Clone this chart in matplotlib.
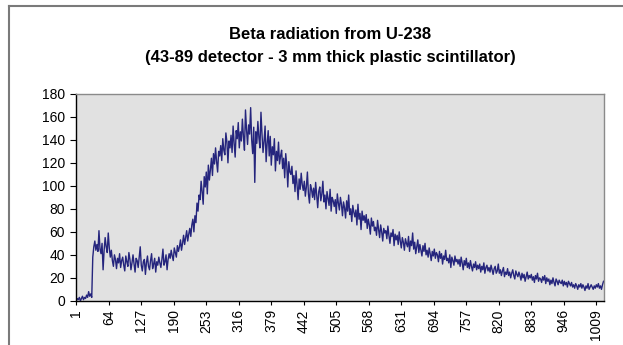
import matplotlib
matplotlib.use("Agg")
import matplotlib.pyplot as plt
from matplotlib.lines import Line2D

title_lines = ["Beta radiation from U-238",
               "(43-89 detector - 3 mm thick plastic scintillator)"]

# counts, every 2nd channel starting at channel 1
counts = [
    0, 2, 1, 3, 0, 2, 4, 1, 3, 2,
    5, 3, 8, 4, 6, 3, 38, 47, 52, 44,
    49, 43, 61, 45, 41, 50, 27, 44, 55, 47,
    42, 59, 46, 38, 44, 35, 30, 40, 36, 28,
    37, 33, 41, 29, 35, 38, 31, 26, 39, 34,
    30, 42, 36, 27, 33, 40, 32, 25, 37, 35,
    29, 38, 47, 31, 26, 34, 36, 23, 33, 39,
    30, 27, 35, 41, 28, 32, 37, 25, 34, 31,
    38, 33, 29, 36, 45, 31, 34, 40, 27, 36,
    41, 37, 44, 39, 35, 46, 42, 38, 48, 43,
    47, 53, 44, 50, 57, 49, 55, 61, 52, 58,
    63, 56, 66, 71, 60, 74, 68, 85, 78, 92,
    88, 104, 95, 84, 108, 99, 112, 93, 118, 105,
    114, 124, 109, 128, 119, 133, 121, 112, 130, 126,
    135, 122, 141, 131, 127, 146, 138, 120, 139, 133,
    144, 129, 152, 137, 125, 148, 141, 155, 133, 147,
    139, 158, 143, 131, 166, 149, 136, 153, 145, 168,
    140, 128, 151, 103, 147, 137, 156, 142, 133, 164,
    145, 129, 139, 152, 121, 137, 148, 126, 143, 118,
    134, 127, 141, 113, 130, 122, 138, 119, 126, 131,
    115, 124, 107, 128, 118, 99, 121, 112, 110, 117,
    102, 109, 95, 113, 100, 88, 106, 97, 111, 101,
    96, 104, 91, 99, 112, 93, 85, 101, 97, 90,
    98, 88, 103, 92, 81, 95, 99, 87, 93, 104,
    86, 92, 80, 95, 89, 83, 97, 78, 90, 87,
    82, 88, 76, 93, 85, 79, 90, 84, 74, 86,
    81, 72, 87, 78, 92, 75, 80, 69, 83, 77,
    73, 79, 66, 84, 71, 76, 62, 78, 70, 74,
    68, 75, 63, 71, 66, 58, 72, 65, 69, 61,
    64, 57, 70, 62, 55, 66, 60, 52, 63, 59,
    61, 54, 65, 57, 50, 59, 56, 62, 48, 58,
    53, 57, 49, 60, 52, 46, 55, 51, 44, 54,
    50, 47, 56, 43, 52, 48, 59, 45, 51, 41,
    47, 53, 42, 49, 44, 39, 48, 43, 50, 40,
    44, 38, 46, 41, 35, 43, 39, 45, 37, 42,
    40, 34, 43, 37, 41, 32, 39, 36, 44, 35,
    37, 33, 40, 29, 38, 35, 31, 39, 34, 36,
    32, 36, 30, 38, 33, 27, 35, 31, 37, 29,
    33, 28, 35, 30, 26, 32, 29, 34, 27, 31,
    28, 32, 25, 30, 27, 33, 24, 29, 31, 26,
    29, 25, 31, 27, 23, 28, 30, 24, 26, 32,
    24, 27, 22, 26, 29, 21, 25, 23, 28, 22,
    25, 20, 24, 27, 22, 19, 26, 23, 21, 25,
    22, 18, 24, 20, 23, 17, 21, 25, 19, 22,
    20, 23, 18, 21, 16, 22, 19, 24, 17, 20,
    19, 16, 21, 18, 22, 15, 20, 17, 19, 14,
    18, 15, 20, 16, 13, 19, 17, 14, 18, 16,
    15, 18, 13, 17, 14, 16, 12, 17, 15, 13,
    16, 12, 14, 11, 15, 13, 10, 14, 12, 15,
    11, 14, 12, 9, 13, 11, 15, 10, 12, 14,
    12, 10, 13, 11, 14, 12, 15, 11, 13, 10,
    14, 17,
]
channel_step = 2
channels = [1 + channel_step * i for i in range(len(counts))]
n_channels = 1024

x_tick_labels = [1, 64, 127, 190, 253, 316, 379, 442, 505, 568,
                 631, 694, 757, 820, 883, 946, 1009]
y_ticks = [0, 20, 40, 60, 80, 100, 120, 140, 160, 180]

plt.rcParams['font.family'] = ['Liberation Sans', 'DejaVu Sans']

fig = plt.figure(figsize=(6.23, 3.45), dpi=100)
ax = fig.add_axes([0.122, 0.128, 0.848, 0.600])
ax.set_facecolor('#e1e1e1')

ax.plot(channels, counts, color='#25257d', lw=1.0)

ax.set_xlim(0.5, n_channels + 0.5)
ax.set_ylim(0, 180)
ax.set_yticks(y_ticks)
ax.set_yticklabels([str(v) for v in y_ticks], fontsize=10)
ax.set_xticks(x_tick_labels)
ax.set_xticklabels([str(v) for v in x_tick_labels], rotation=90, fontsize=10)
ax.tick_params(axis='y', direction='out', length=4, width=0.8, colors='black', pad=4)
ax.tick_params(axis='x', direction='out', length=3, width=0.8, colors='black', pad=3)

for s in ['top', 'right']:
    ax.spines[s].set_color('#8a8a8a')
    ax.spines[s].set_linewidth(1.0)
for s in ['left', 'bottom']:
    ax.spines[s].set_color('black')
    ax.spines[s].set_linewidth(1.0)

fig.text(0.530, 0.900, title_lines[0], ha='center', va='center',
         fontsize=12, fontweight='bold')
fig.text(0.530, 0.833, title_lines[1], ha='center', va='center',
         fontsize=12, fontweight='bold')

# outer chart frame (left and top edges visible)
fig.add_artist(Line2D([0.014, 0.014], [0.0, 0.982], transform=fig.transFigure,
                      color='#7a7a7a', lw=1.5))
fig.add_artist(Line2D([0.014, 1.0], [0.982, 0.982], transform=fig.transFigure,
                      color='#7a7a7a', lw=1.5))

fig.savefig('out.png', dpi=100)
